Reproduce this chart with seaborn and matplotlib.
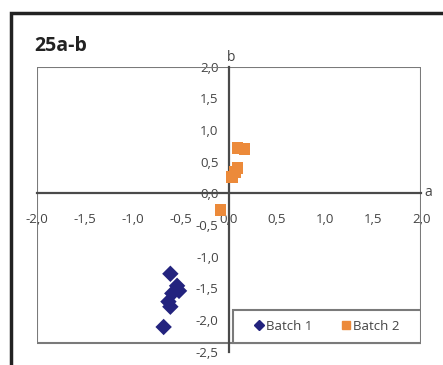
import numpy as np
import pandas as pd
import matplotlib.pyplot as plt
import seaborn as sns
from matplotlib.patches import Rectangle

# values (a*, b*)
batch1_a = [-0.61, -0.54, -0.52, -0.59, -0.63, -0.61, -0.68]
batch1_b = [-1.27, -1.46, -1.54, -1.58, -1.71, -1.79, -2.11]
batch2_a = [0.09, 0.16, 0.09, 0.03, 0.06, -0.09]
batch2_b = [0.72, 0.70, 0.40, 0.26, 0.34, -0.26]
series = ["Batch 1", "Batch 2"]
colors = ["#23237e", "#ec8a3a"]
ticks_a = [-2.0, -1.5, -1.0, -0.5, 0.0, 0.5, 1.0, 1.5, 2.0]
ticks_b = [-2.5, -2.0, -1.5, -1.0, -0.5, 0.0, 0.5, 1.0, 1.5, 2.0]

df = pd.DataFrame({
    "a": batch1_a + batch2_a,
    "b": batch1_b + batch2_b,
    "batch": [series[0]] * len(batch1_a) + [series[1]] * len(batch2_a),
})

sns.set_style("white")
plt.rcParams["font.family"] = ["Open Sans", "DejaVu Sans"]

fig = plt.figure(figsize=(4.43, 3.65), dpi=100)
ax = fig.add_axes([0.0828, 0.0365, 0.8684, 0.7808])

sns.scatterplot(data=df, x="a", y="b", hue="batch", style="batch",
                palette=colors, markers=["D", "s"], s=70, linewidth=0,
                ax=ax, legend=False, zorder=3)

ax.set_xlim(-2.0, 2.0)
ax.set_ylim(-2.5, 2.0)

# axes crossing at the origin
for side in ["top", "right"]:
    ax.spines[side].set_visible(False)
ax.spines["left"].set_position(("data", 0))
ax.spines["bottom"].set_position(("data", 0))
for side in ["left", "bottom"]:
    ax.spines[side].set_color("#4a4a4a")
    ax.spines[side].set_linewidth(1.6)

fmt = lambda v: f"{v:.1f}".replace(".", ",")
ax.set_xticks(ticks_a)
ax.set_xticklabels([fmt(v) for v in ticks_a])
ax.set_yticks(ticks_b)
ax.set_yticklabels([fmt(v) for v in ticks_b])
ax.tick_params(axis="both", direction="inout", length=8, width=1.3,
               color="#4a4a4a", labelsize=9.5, labelcolor="#444444")
ax.tick_params(axis="x", pad=10)
ax.set_xlabel("")
ax.set_ylabel("")

# plot area border
ax.add_patch(Rectangle((-2.0, -2.37), 4.0, 4.37, fill=False,
                       edgecolor="#7a7a7a", linewidth=1.5, zorder=1))

ax.text(2.03, 0.02, "a", fontsize=10, color="#444444", ha="left", va="center")
ax.text(0.02, 2.03, "b", fontsize=10, color="#444444", ha="center", va="bottom")

# legend box over the lower right corner
ax.add_patch(Rectangle((0.04, -2.37), 1.96, 0.53, fill=True, facecolor="white",
                       edgecolor="#7a7a7a", linewidth=1.5, zorder=2))
handles = [plt.Line2D([], [], marker=m, color=c, linestyle="", markersize=ms)
           for m, c, ms in zip(["D", "s"], colors, [5, 6])]
leg = ax.legend(handles, series, ncol=2, loc="center",
                bbox_to_anchor=(0.507, 0.03, 0.493, 0.12),
                frameon=False, fontsize=9.5, handletextpad=0.1,
                columnspacing=2.2, handlelength=0.8, borderaxespad=0)
for t in leg.get_texts():
    t.set_color("#444444")

fig.text(0.077, 0.875, "25a-b", fontsize=14, fontweight="bold", color="#222222",
         ha="left", va="center")

# outer frame of the figure panel
fig.patches.append(Rectangle((0.025, -0.2), 1.2, 1.164, transform=fig.transFigure,
                             fill=False, edgecolor="#222222", linewidth=2.5))

fig.savefig("out.png", dpi=100)
